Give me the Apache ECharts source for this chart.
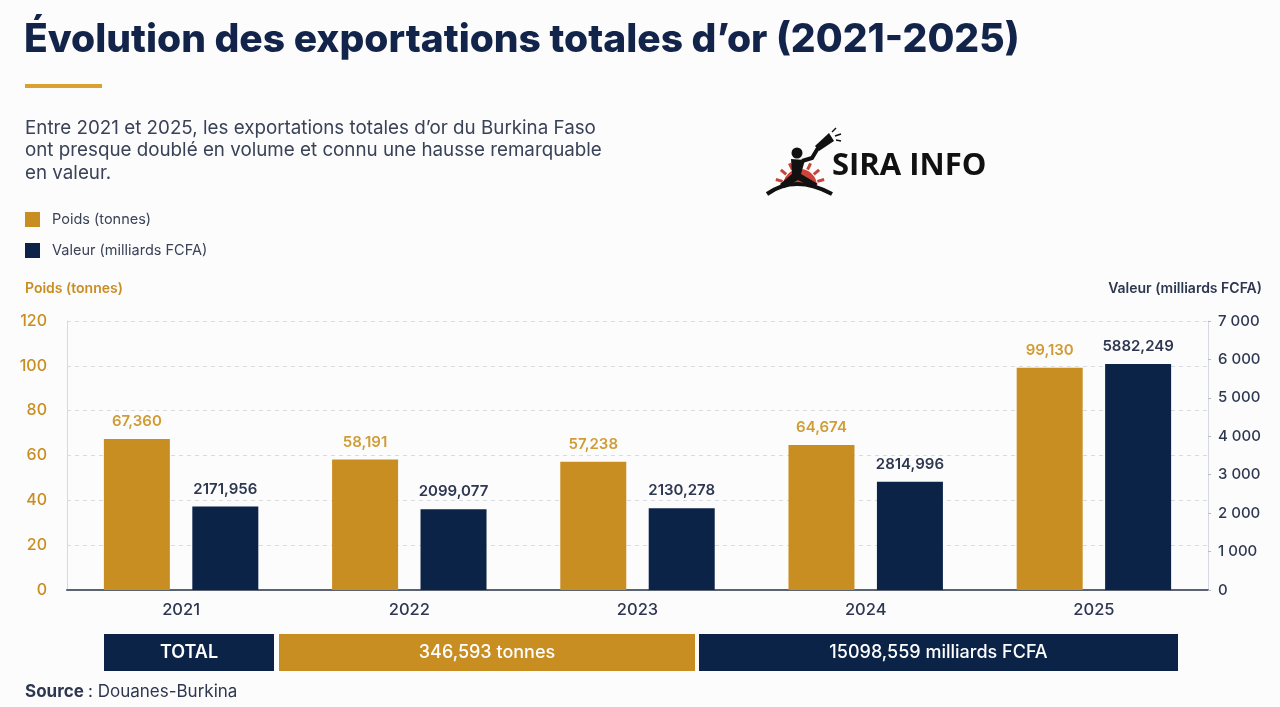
<!DOCTYPE html>
<html>
<head>
<meta charset="utf-8">
<title>Exportations d'or 2021-2025</title>
<script src="https://cdn.jsdelivr.net/npm/echarts@6/dist/echarts.min.js"></script>
<style>
	html, body { margin: 0; padding: 0; background: #fcfcfd; }
	#chart { width: 1280px; height: 707px; }
</style>
</head>
<body>
<div id="chart"></div>
<script>
	// data
	var years = [ "2021", "2022", "2023", "2024", "2025" ];
	var poids = [ 67.360, 58.191, 57.238, 64.674, 99.130 ];
	var valeur = [ 2171.956, 2099.077, 2130.278, 2814.996, 5882.249 ];
	var totalPoids = "346,593 tonnes";
	var totalValeur = "15098,559 milliards FCFA";

	var GOLD = "#c98e22";
	var GOLD_TEXT = "#d09c35";
	var NAVY = "#0b2347";
	var INK = "#2e3750";
	var FONT = "Inter, 'Noto Sans', sans-serif";

	function frDecimal(v) {
		return v.toFixed(3).replace(".", ",");
	}

	function frThousands(v) {
		return String(v).replace(/\B(?=(\d{3})+(?!\d))/g, " ");
	}

	function logo(x, y) {
		var rays = [];
		for (var a = 195; a <= 345; a += 25) {
			var r = a * Math.PI / 180;
			rays.push({
				type : "line",
				shape : {
					x1 : x + Math.cos(r) * 18, y1 : y + Math.sin(r) * 18,
					x2 : x + Math.cos(r) * 25, y2 : y + Math.sin(r) * 25
				},
				style : { stroke : "#c8453b", lineWidth : 3 }
			});
		}
		return [ {
			type : "sector",
			shape : { cx : x, cy : y, r0 : 0, r : 17, startAngle : Math.PI, endAngle : 2 * Math.PI },
			style : { fill : "#cf4238" }
		} ].concat(rays).concat([ {
			type : "bezierCurve",
			shape : { x1 : x - 33, y1 : y + 8, cpx1 : x - 5, cpy1 : y - 12, x2 : x + 32, y2 : y + 8 },
			style : { stroke : "#111", lineWidth : 4, fill : null }
		}, {
			type : "polygon",
			shape : { points : [ [ x - 9, y - 27 ], [ x + 5, y - 26 ], [ x + 1, y - 12 ], [ x + 18, y - 2 ],
					[ x + 12, y + 1 ], [ x - 2, y - 6 ], [ x - 16, y + 2 ], [ x - 20, y - 2 ], [ x - 8, y - 12 ] ] },
			style : { fill : "#111" }
		}, {
			type : "circle",
			shape : { cx : x - 3, cy : y - 33, r : 5.5 },
			style : { fill : "#111" }
		}, {
			type : "polyline",
			shape : { points : [ [ x + 2, y - 25 ], [ x + 12, y - 28 ], [ x + 18, y - 38 ] ] },
			style : { stroke : "#111", lineWidth : 4, fill : null }
		}, {
			type : "polygon",
			shape : { points : [ [ x + 15, y - 40 ], [ x + 29, y - 53 ], [ x + 34, y - 45 ], [ x + 19, y - 35 ] ] },
			style : { fill : "#111" }
		}, {
			type : "polyline",
			shape : { points : [ [ x + 32, y - 54 ], [ x + 36, y - 58 ] ] },
			style : { stroke : "#111", lineWidth : 1.5 }
		}, {
			type : "polyline",
			shape : { points : [ [ x + 35, y - 50 ], [ x + 41, y - 52 ] ] },
			style : { stroke : "#111", lineWidth : 1.5 }
		}, {
			type : "polyline",
			shape : { points : [ [ x + 36, y - 46 ], [ x + 41, y - 45 ] ] },
			style : { stroke : "#111", lineWidth : 1.5 }
		}, {
			type : "text",
			x : x + 32, y : y - 20,
			style : { text : "SIRA INFO", fill : "#111", font : "bold 31px 'Open Sans', 'Noto Sans', sans-serif", textVerticalAlign : "middle" }
		} ]);
	}

	function totalCell(x, w, fill, text, weight) {
		return {
			type : "rect",
			shape : { x : x, y : 634, width : w, height : 37 },
			style : { fill : fill },
			textContent : {
				style : { text : text, fill : "#fff", font : weight + " 18px " + FONT }
			},
			textConfig : { position : "inside" }
		};
	}

	var chart = echarts.init(document.getElementById("chart"));

	chart.setOption({
		backgroundColor : "#fcfcfd",
		textStyle : { fontFamily : FONT },
		title : [ {
			text : "Évolution des exportations totales d’or (2021-2025)",
			left : 24,
			top : 21,
			padding : 0,
			textStyle : { fontSize : 39, fontWeight : 800, color : "#13244a", fontFamily : FONT }
		}, {
			text : "Entre 2021 et 2025, les exportations totales d’or du Burkina Faso\n"
					+ "ont presque doublé en volume et connu une hausse remarquable\nen valeur.",
			left : 25,
			top : 117,
			padding : 0,
			textStyle : { fontSize : 18.8, fontWeight : 400, color : "#3a4257", lineHeight : 22.5, fontFamily : FONT }
		} ],
		legend : {
			orient : "vertical",
			left : 20,
			top : 207,
			itemWidth : 15,
			itemHeight : 15,
			itemGap : 16,
			icon : "rect",
			textStyle : { fontSize : 14.5, color : "#3a4257", padding : [ 0, 0, 0, 7 ] },
			data : [ "Poids (tonnes)", "Valeur (milliards FCFA)" ]
		},
		grid : {
			left : 67,
			right : 72,
			top : 321,
			bottom : 117
		},
		xAxis : {
			type : "category",
			data : years,
			axisLine : { lineStyle : { color : "#5b6373", width : 2 } },
			axisTick : { show : false },
			axisLabel : { color : INK, fontSize : 16.5, fontWeight : 500, margin : 12 }
		},
		yAxis : [ {
			type : "value",
			min : 0,
			max : 120,
			interval : 20,
			axisLine : { show : true, lineStyle : { color : "#d6d9df" } },
			axisTick : { show : false },
			axisLabel : { color : GOLD, fontSize : 16, fontWeight : 500, margin : 20 },
			splitLine : { lineStyle : { color : "#d9dce2", type : [ 4, 4 ] } }
		}, {
			type : "value",
			min : 0,
			max : 7000,
			interval : 1000,
			position : "right",
			axisLine : { show : true, lineStyle : { color : "#d6d9df" } },
			axisTick : { show : true, length : 3, lineStyle : { color : "#b8bcc6" } },
			axisLabel : { color : INK, fontSize : 15, fontWeight : 500, margin : 10, formatter : frThousands },
			splitLine : { show : false }
		} ],
		series : [ {
			name : "Poids (tonnes)",
			type : "bar",
			yAxisIndex : 0,
			data : poids,
			barWidth : 66,
			barGap : "34%",
			itemStyle : { color : GOLD },
			label : {
				show : true,
				position : "top",
				distance : 10,
				color : GOLD_TEXT,
				fontSize : 15,
				fontWeight : 600,
				formatter : function(p) {
					return frDecimal(p.value);
				}
			}
		}, {
			name : "Valeur (milliards FCFA)",
			type : "bar",
			yAxisIndex : 1,
			data : valeur,
			barWidth : 66,
			itemStyle : { color : NAVY },
			label : {
				show : true,
				position : "top",
				distance : 10,
				color : INK,
				fontSize : 15,
				fontWeight : 600,
				formatter : function(p) {
					return frDecimal(p.value);
				}
			}
		} ],
		graphic : [ {
			type : "rect",
			shape : { x : 25, y : 84, width : 77, height : 4 },
			style : { fill : "#d9a032" }
		}, {
			type : "text",
			x : 25, y : 289,
			style : { text : "Poids (tonnes)", fill : GOLD, font : "600 14px " + FONT, textVerticalAlign : "middle" }
		}, {
			type : "text",
			x : 1262, y : 289,
			style : { text : "Valeur (milliards FCFA)", fill : INK, font : "600 14px " + FONT, textAlign : "right",
				textVerticalAlign : "middle" }
		}, totalCell(104, 170, NAVY, "TOTAL", 600), totalCell(279, 416, GOLD, totalPoids, 500),
				totalCell(699, 479, NAVY, totalValeur, 500), {
			type : "text",
			x : 25, y : 692,
			style : { text : "Source", fill : INK, font : "700 17px " + FONT, textVerticalAlign : "middle" }
		}, {
			type : "text",
			x : 88, y : 692,
			style : { text : ": Douanes-Burkina", fill : INK, font : "400 17px " + FONT, textVerticalAlign : "middle" }
		} ].concat(logo(800, 186))
	});
</script>
</body>
</html>
